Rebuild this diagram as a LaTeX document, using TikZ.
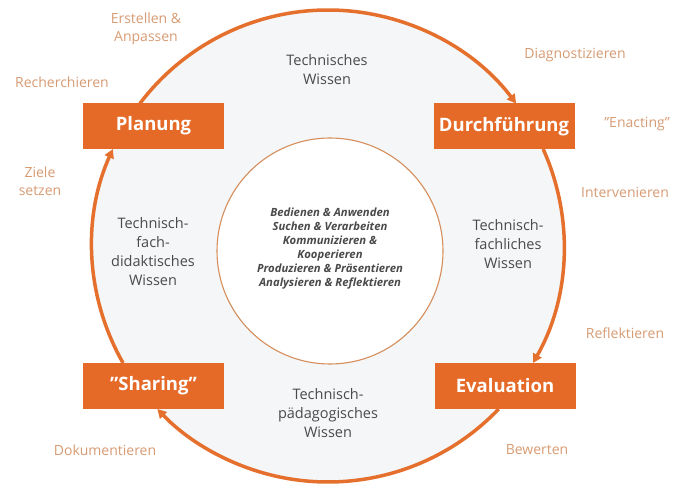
\documentclass[tikz,border=0pt]{standalone}
\usepackage{fontspec}
\setmainfont{Open Sans}[Ligatures=NoCommon]
\usetikzlibrary{arrows.meta,calc}
\definecolor{boxorange}{HTML}{E56A28}
\definecolor{arcorange}{HTML}{E56F2C}
\definecolor{labeltan}{HTML}{D79B73}
\definecolor{innergrey}{HTML}{4A4A4A}
\definecolor{bgfill}{HTML}{F4F6F7}
\definecolor{innerring}{HTML}{D58E5C}
\newcommand{\sq}{\symbol{34}}
\tikzset{
  phasebox/.style={fill=boxorange, minimum width=141pt, minimum height=46pt, inner sep=0pt,
    text=white, font=\fontsize{18.5}{22}\selectfont\bfseries},
  actlabel/.style={text=labeltan, align=center, font=\fontsize{14}{18}\selectfont},
  wissen/.style={text=innergrey, align=center, font=\fontsize{14.5}{19}\selectfont},
  cyclearc/.style={draw=arcorange, line width=3.5pt, -{Triangle[length=9pt,width=9.5pt]}},
}
\begin{document}
\begin{tikzpicture}[x=1pt,y=1pt]
\useasboundingbox (0,0) rectangle (684,484);
\coordinate (c) at (328,238);
\fill[bgfill] (c) circle[radius=236];
% inner circle
\node[circle, draw=innerring, line width=1.1pt, fill=white, minimum size=226pt, inner sep=0pt] (inner) at (330,233) {};
\node[text=innergrey, align=center, font=\fontsize{11.3}{14}\selectfont\bfseries\itshape] (skills) at (330,235)
 {Bedienen \& Anwenden\\Suchen \& Verarbeiten\\Kommunizieren \&\\Kooperieren\\Produzieren \& Präsentieren\\Analysieren \& Reflektieren};
% arc end points
\coordinate (p1) at ($(c)+(142.86:236)$);
\coordinate (p2) at ($(c)+(24.27:236)$);
\coordinate (p3) at ($(c)+(-43.69:236)$);
\coordinate (p4) at ($(c)+(209.72:236)$);
\draw[cyclearc] (p1) arc[start angle=142.86, end angle=37.14, radius=236];
\draw[cyclearc] (p2) arc[start angle=24.27, end angle=-29.72, radius=236];
\draw[cyclearc] (p3) arc[start angle=-43.69, end angle=-136.31, radius=236];
\draw[cyclearc] (p4) arc[start angle=209.72, end angle=155.73, radius=236];
% phase boxes
\node[phasebox] (planung) at (153.5,358) {Planung};
\node[phasebox] (durch) at (504,357.5) {Durchführung};
\node[phasebox] (sharing) at (153.5,98) {\sq Sharing\sq};
\node[phasebox] (eval) at (505,98) {Evaluation};
% knowledge labels
\node[wissen] (tw) at (327,414) {Technisches\\Wissen};
\node[wissen] (tfdw) at (153,232) {Technisch-\\fach-\\didaktisches\\Wissen};
\node[wissen] (tfw) at (508,240) {Technisch-\\fachliches\\Wissen};
\node[wissen] (tpw) at (328,71) {Technisch-\\pädagogisches\\Wissen};
% activity labels
\node[actlabel] (erst) at (146,455) {Erstellen \&\\Anpassen};
\node[actlabel] (rech) at (62,402) {Recherchieren};
\node[actlabel] (ziele) at (40,303) {Ziele\\setzen};
\node[actlabel] (diag) at (575,429) {Diagnostizieren};
\node[actlabel] (enact) at (637,360) {\sq Enacting\sq};
\node[actlabel] (interv) at (625,292) {Intervenieren};
\node[actlabel] (refl) at (625,151) {Reflektieren};
\node[actlabel] (bew) at (537,34) {Bewerten};
\node[actlabel] (doku) at (105,34) {Dokumentieren};
\end{tikzpicture}
\end{document}
